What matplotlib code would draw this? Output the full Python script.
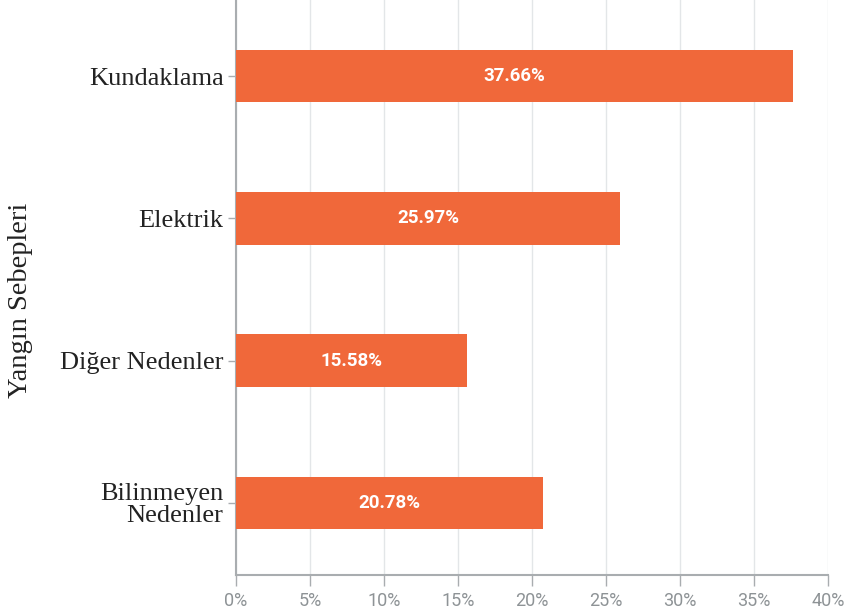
import matplotlib.pyplot as plt
from matplotlib.ticker import FuncFormatter

# fire causes and their shares (%)
causes = ["Kundaklama", "Elektrik", "Diğer Nedenler", "Bilinmeyen\nNedenler"]
shares = [37.66, 25.97, 15.58, 20.78]
xticks = [0, 5, 10, 15, 20, 25, 30, 35, 40]

bar_color = "#F0683A"
grid_color = "#E3E6E8"
axis_color = "#A9ADB0"

fig = plt.figure(figsize=(8.49, 6.10), dpi=100)
ax = fig.add_axes([0.278, 0.0574, 0.697, 0.9426])

pos = list(range(len(causes)))
bars = ax.barh(pos, shares, height=0.37, color=bar_color, zorder=3)

for b, v in zip(bars, shares):
    ax.text(b.get_width() / 2, b.get_y() + b.get_height() / 2, "%.2f%%" % v,
            ha="center", va="center", color="white", fontsize=13.5,
            fontweight="bold", family="Roboto", zorder=4)

ax.set_yticks(pos)
ax.set_yticklabels(causes, family="Liberation Serif", fontsize=19,
                   color="#222222", linespacing=0.95)
ax.set_ylim(3.507, -0.535)

ax.set_xlim(0, 40)
ax.set_xticks(xticks)
ax.xaxis.set_major_formatter(FuncFormatter(lambda v, p: "%d%%" % v))
for lab in ax.get_xticklabels():
    lab.set_family("Roboto")
    lab.set_fontsize(13)
    lab.set_color("#8E9396")

ax.grid(axis="x", color=grid_color, linewidth=1, zorder=0)
ax.set_axisbelow(True)

for s in ["top", "right"]:
    ax.spines[s].set_visible(False)
ax.spines["left"].set_color(axis_color)
ax.spines["bottom"].set_color(axis_color)
ax.spines["left"].set_linewidth(1.5)
ax.spines["bottom"].set_linewidth(1.5)
ax.tick_params(axis="x", length=8, width=1, color=axis_color, pad=4)
ax.tick_params(axis="y", length=6, width=1, color=axis_color, pad=3)

fig.text(0.024, 0.508, "Yangın Sebepleri", rotation=90, ha="center", va="center",
         family="Liberation Serif", fontsize=20.5, color="#222222")

fig.savefig("out.png", dpi=100)
